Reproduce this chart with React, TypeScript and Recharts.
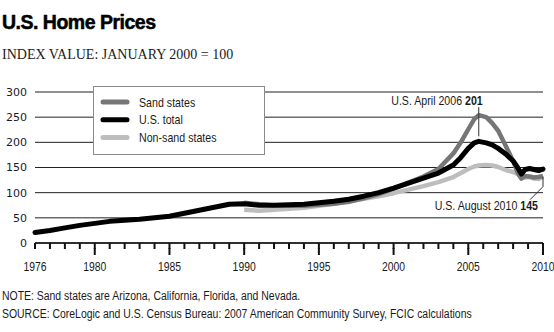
import React from 'react';
import { LineChart, Line, XAxis, YAxis, CartesianGrid, Legend, ReferenceLine } from 'recharts';

const YEARS = [1976, 1977, 1978, 1979, 1980, 1981, 1982, 1983, 1984, 1985, 1986, 1987, 1988, 1989, 1990, 1991, 1992, 1993, 1994, 1995, 1996, 1997, 1998, 1999, 2000, 2001, 2002, 2003, 2004, 2004.5, 2005, 2005.4, 2005.7, 2006.2, 2006.6, 2007, 2007.5, 2008, 2008.3, 2008.55, 2008.8, 2009.1, 2009.4, 2009.7, 2010];
const US_TOTAL = [21, 25, 30, 35, 39, 43, 45, 47, 50, 53, 59, 65, 71, 77, 78, 75, 75, 76, 77, 80, 83, 87, 93, 100, 109, 119, 129, 139, 155, 170, 188, 199, 202, 199, 195, 188, 177, 163, 150, 137, 146, 148, 146, 144, 147];
const SAND_STATES = [null, null, null, null, null, null, null, null, null, null, null, null, null, null, 80, 77, 75, 74, 74, 76, 78, 82, 89, 97, 108, 120, 132, 147, 178, 200, 226, 246, 254, 250, 238, 223, 193, 163, 140, 128, 133, 132, 130, 131, 133];
const NON_SAND_STATES = [null, null, null, null, null, null, null, null, null, null, null, null, null, null, 66, 64, 66, 68, 70, 74, 78, 83, 88, 93, 99, 106, 113, 121, 131, 139, 147, 152, 154, 155, 154, 151, 145, 141, 137, 131, 130, 131, 128, 127, 131];

const SERIES_NAMES = { sand: 'Sand states', us: 'U.S. total', nonSand: 'Non-sand states' };
const LEGEND_ORDER = ['Sand states', 'U.S. total', 'Non-sand states'];
const Y_TICKS = [0, 50, 100, 150, 200, 250, 300];
const X_TICKS = [1976, 1977, 1978, 1979, 1980, 1981, 1982, 1983, 1984, 1985, 1986, 1987, 1988, 1989, 1990, 1991, 1992, 1993, 1994, 1995, 1996, 1997, 1998, 1999, 2000, 2001, 2002, 2003, 2004, 2005, 2006, 2007, 2008, 2009, 2010];
const MAJOR_YEARS = [1980, 1985, 1990, 1995, 2000, 2005, 2010];
const LABEL_YEARS = [1976, 1980, 1985, 1990, 1995, 2000, 2005, 2010];

const PEAK_YEAR = 2005.7;
const PEAK_LEADER = [212, 270];
const PEAK_TEXT = 'U.S. April 2006';
const PEAK_VALUE = '201';
const END_YEAR = 2010;
const END_LEADER_X2 = 2009.13;
const END_LEADER = [132, 112, 86];
const END_TEXT = 'U.S. August 2010';
const END_VALUE = '145';

const data = YEARS.map((year, i) => ({
  year,
  us: US_TOTAL[i],
  sand: SAND_STATES[i],
  nonSand: NON_SAND_STATES[i],
}));

const SANS = "'Liberation Sans', Arial, sans-serif";
const TEXT_COLOR = '#1a1a1a';
const SQUEEZE = 0.82;

const CondText = (props: any) => {
  const { x, y, scale = SQUEEZE, children, ...rest } = props;
  return (
    <text transform={`translate(${x},${y}) scale(${scale},1)`} x={0} y={0} fontFamily={SANS} fill={TEXT_COLOR} {...rest}>
      {children}
    </text>
  );
};

const YearTick = (props: any) => {
  const { x, y, payload } = props;
  const v = payload.value;
  const major = MAJOR_YEARS.includes(v);
  const label = LABEL_YEARS.includes(v);
  return (
    <g>
      {major && <rect x={x - 1} y={y - 1} width={2} height={7} fill="#111" />}
      {label && (
        <CondText x={x} y={y + 22} textAnchor="middle" fontSize={13} scale={0.8}>
          {v}
        </CondText>
      )}
    </g>
  );
};

const LegendBox = (props: any) => {
  const payload = [...(props.payload || [])].sort(
    (a: any, b: any) => LEGEND_ORDER.indexOf(a.value) - LEGEND_ORDER.indexOf(b.value)
  );
  return (
    <div style={{ width: 170, height: 67, border: '1px solid #8a8a8a', background: '#fff', boxSizing: 'content-box' }}>
      <svg width={170} height={67} style={{ display: 'block' }}>
        {payload.map((p: any, i: number) => (
          <g key={p.value}>
            <line x1={9} x2={33} y1={15 + i * 17.8} y2={15 + i * 17.8} stroke={p.color} strokeWidth={5} strokeLinecap="round" />
            <CondText x={45} y={15 + i * 17.8} dy="0.35em" fontSize={13}>
              {p.value}
            </CondText>
          </g>
        ))}
      </svg>
    </div>
  );
};

const PeakLabel = (props: any) => {
  const { viewBox } = props;
  return (
    <CondText x={viewBox.x + 4} y={viewBox.y - 2} textAnchor="end" fontSize={12.5} scale={0.85}>
      {PEAK_TEXT}{'  '}
      <tspan fontWeight="bold">{PEAK_VALUE}</tspan>
    </CondText>
  );
};

const EndLabel = (props: any) => {
  const { viewBox } = props;
  return (
    <CondText x={viewBox.x + 8} y={viewBox.y + viewBox.height + 10} textAnchor="end" fontSize={12.5} scale={0.85}>
      {END_TEXT}{'  '}
      <tspan fontWeight="bold">{END_VALUE}</tspan>
    </CondText>
  );
};

export default function App() {
  return (
    <div style={{ position: 'fixed', left: 0, top: 0, width: 554, height: 332, background: '#fff', overflow: 'hidden' }}>
      <div style={{ position: 'absolute', left: 2, top: 10, fontFamily: SANS, fontWeight: 'bold', fontSize: 19.5, letterSpacing: -0.5, color: '#000', lineHeight: '24px', whiteSpace: 'nowrap', WebkitTextStroke: '0.5px #000' }}>
        U.S. Home Prices
      </div>
      <div style={{ position: 'absolute', left: 2, top: 46, fontFamily: "'Liberation Serif', 'Times New Roman', serif", fontSize: 14, color: TEXT_COLOR, lineHeight: '17px', whiteSpace: 'nowrap' }}>
        INDEX VALUE: JANUARY 2000 = 100
      </div>
      <div style={{ position: 'absolute', left: 0, top: 0 }}>
        <LineChart width={554} height={332} data={data} margin={{ top: 92, right: 11, left: 0, bottom: 59 }}>
          <CartesianGrid horizontal vertical={false} stroke="#222" strokeWidth={1} />
          <XAxis
            dataKey="year"
            type="number"
            domain={[1976, 2010]}
            ticks={X_TICKS}
            interval={0}
            height={30}
            tickSize={6}
            tickMargin={0}
            tickLine={{ stroke: '#111', strokeWidth: 2 }}
            axisLine={{ stroke: '#111', strokeWidth: 1.4 }}
            tick={(p: any) => <YearTick {...p} />}
          />
          <YAxis
            type="number"
            domain={[0, 300]}
            ticks={Y_TICKS}
            width={35}
            tickSize={0}
            tickMargin={8}
            axisLine={false}
            tickLine={false}
            tick={{ fontFamily: "'DejaVu Sans', sans-serif", fontSize: 11, fill: '#1a1a2e' }}
          />
          <Legend
            content={<LegendBox />}
            layout="vertical"
            align="center"
            verticalAlign="middle"
            wrapperStyle={{ position: 'absolute', left: 93, top: 86, width: 172, height: 69 }}
          />
          <Line name={SERIES_NAMES.nonSand} dataKey="nonSand" stroke="#bdbdbd" strokeWidth={4.5} dot={false} isAnimationActive={false} strokeLinejoin="round" />
          <Line name={SERIES_NAMES.sand} dataKey="sand" stroke="#767676" strokeWidth={4.5} dot={false} isAnimationActive={false} strokeLinejoin="round" />
          <Line name={SERIES_NAMES.us} dataKey="us" stroke="#000" strokeWidth={5} dot={false} isAnimationActive={false} strokeLinejoin="round" strokeLinecap="round" />
          <ReferenceLine
            segment={[{ x: PEAK_YEAR, y: PEAK_LEADER[0] }, { x: PEAK_YEAR, y: PEAK_LEADER[1] }]}
            stroke="#333"
            strokeWidth={1}
            label={<PeakLabel />}
          />
          <ReferenceLine
            segment={[{ x: END_YEAR, y: END_LEADER[0] }, { x: END_YEAR, y: END_LEADER[1] }]}
            stroke="#333"
            strokeWidth={1}
          />
          <ReferenceLine
            segment={[{ x: END_YEAR, y: END_LEADER[1] }, { x: END_LEADER_X2, y: END_LEADER[2] }]}
            stroke="#333"
            strokeWidth={1}
            label={<EndLabel />}
          />
        </LineChart>
      </div>
      <div style={{ position: 'absolute', left: 2, top: 287, fontFamily: SANS, fontSize: 12.5, color: TEXT_COLOR, lineHeight: '18px', whiteSpace: 'nowrap', transform: 'scaleX(0.835)', transformOrigin: 'left top' }}>
        <div>NOTE: Sand states are Arizona, California, Florida, and Nevada.</div>
        <div>SOURCE: CoreLogic and U.S. Census Bureau: 2007 American Community Survey, FCIC calculations</div>
      </div>
    </div>
  );
}
